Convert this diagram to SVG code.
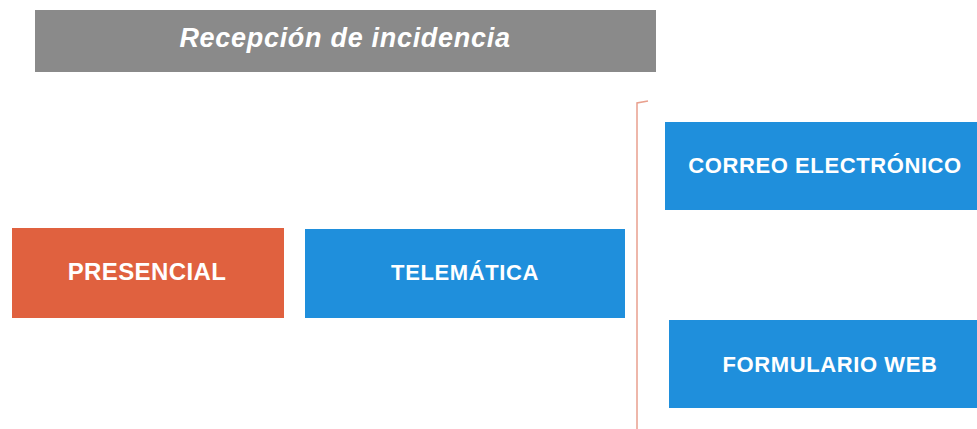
<svg xmlns="http://www.w3.org/2000/svg" width="977" height="429" viewBox="0 0 977 429">
<style>
.lbl{font-family:"Liberation Sans",Arial,sans-serif;font-weight:bold;fill:#fff;text-anchor:middle;font-size:22px;letter-spacing:0.6px}
.blue{fill:#1f8fdc}
</style>
<rect width="977" height="429" fill="#fff"/>
<g id="recepcion">
<rect x="35" y="10" width="621" height="62" fill="#8a8a8a"/>
<text class="lbl" x="345" y="47" style="font-size:27px;font-style:italic;letter-spacing:0.7px">Recepción de incidencia</text>
</g>
<g id="connectors">
<path d="M648 101 L637 103 L637 429" fill="none" stroke="#e9a08e" stroke-width="1.5"/>
</g>
<g id="presencial">
<rect x="12" y="228" width="272" height="90" fill="#e0613f"/>
<text class="lbl" x="147" y="280" style="font-size:24px;letter-spacing:0.4px">PRESENCIAL</text>
</g>
<g id="telematica">
<rect class="blue" x="305" y="229" width="320" height="89"/>
<text class="lbl" x="465" y="280">TELEMÁTICA</text>
</g>
<g id="correo">
<rect class="blue" x="665" y="122" width="312" height="88"/>
<text class="lbl" x="825" y="173">CORREO ELECTRÓNICO</text>
</g>
<g id="formulario">
<rect class="blue" x="669" y="320" width="308" height="88"/>
<text class="lbl" x="830" y="372">FORMULARIO WEB</text>
</g>
</svg>
